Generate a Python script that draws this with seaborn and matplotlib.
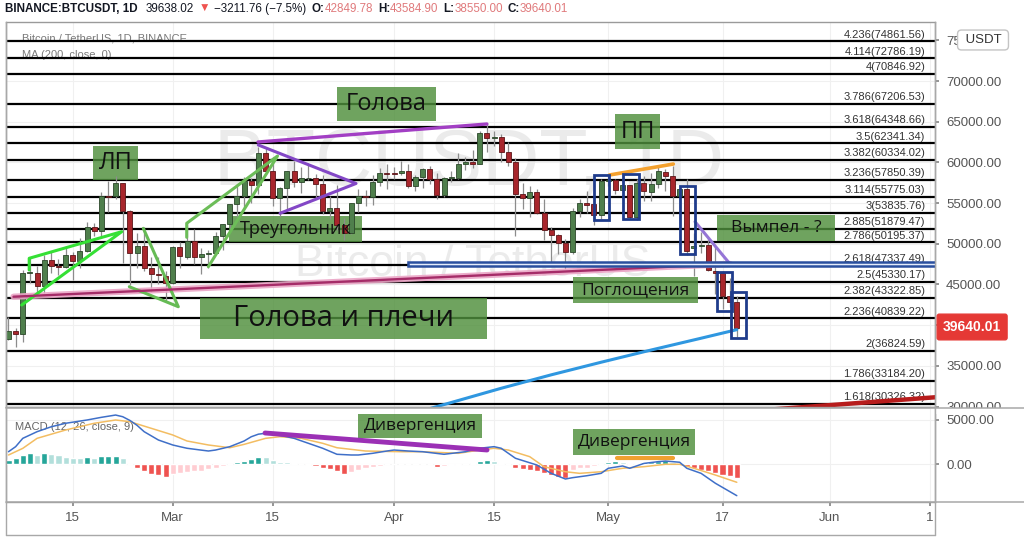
import numpy as np
import pandas as pd
import matplotlib
matplotlib.use("Agg")
import matplotlib.pyplot as plt
import seaborn as sns
from matplotlib.patches import Rectangle
from matplotlib.lines import Line2D

# BINANCE:BTCUSDT daily candles, 6 Feb - 19 May 2021
start_date = "2021-02-06"
opens = [38279, 39323, 38928, 46375, 46420, 44808, 47969, 47298, 47157, 48580,
         47911, 49133, 52118, 51553, 55906, 55841, 57412, 54088, 48891, 49676,
         47074, 46277, 46104, 45134, 49596, 48437, 50349, 48374, 48747, 48882,
         50959, 52375, 54875, 55852, 57773, 57222, 61188, 58976, 55605, 56901,
         58913, 57641, 58030, 58100, 57352, 54083, 54343, 52304, 51294, 55026,
         55817, 55781, 57635, 58747, 58739, 58720, 58950, 57052, 58202, 59130,
         57990, 55953, 58078, 58143, 59769, 59997, 59860, 63575, 62960, 63159,
         61335, 60007, 56150, 55633, 56425, 53788, 51691, 51111, 50048, 49004,
         54030, 55037, 54858, 53568, 57715, 57826, 56621, 57214, 53252, 57441,
         56414, 57353, 58877, 58290, 55860, 56705, 49537, 49683, 49856, 46716,
         46427, 43538, 42850]
highs = [40955, 39700, 46794, 48200, 47310, 48679, 48986, 48150, 49707, 49011,
         50689, 52619, 52530, 56368, 57700, 58353, 57509, 54184, 51375, 52042,
         48424, 48394, 46638, 49790, 50200, 52640, 51774, 49449, 49200, 51450,
         52403, 54895, 57388, 58150, 58082, 61844, 61725, 60633, 56938, 58999,
         60130, 59468, 59880, 58589, 58431, 55831, 57200, 53229, 55073, 56700,
         56560, 58406, 59368, 59800, 59490, 60200, 59792, 58493, 59272, 59500,
         58655, 58153, 58895, 61200, 60699, 61500, 63800, 64854, 63800, 63521,
         62506, 60499, 57527, 57076, 56758, 55521, 52121, 51166, 50568, 54357,
         55509, 56428, 55220, 57963, 58448, 57903, 58973, 57214, 57911, 58363,
         58650, 59500, 59211, 59500, 56888, 57939, 51330, 51438, 50700, 49720,
         46686, 45811, 43585]
lows = [38216, 37351, 37989, 45200, 43727, 43994, 46400, 46203, 47014, 45571,
        47004, 48947, 50902, 50710, 53864, 55478, 47622, 44893, 47004, 46674,
        44107, 45000, 43000, 45115, 47048, 48101, 47500, 46300, 47070, 48882,
        49275, 51789, 53005, 54273, 54963, 56078, 58967, 54600, 53271, 54124,
        57023, 56271, 57820, 55450, 53650, 53000, 51700, 50428, 51215, 53950,
        54691, 54800, 57071, 56769, 57935, 58428, 56880, 56479, 56818, 57333,
        55473, 55700, 57654, 57904, 59018, 59350, 59770, 61301, 62020, 60000,
        59581, 50931, 54222, 53330, 53695, 50500, 47500, 48734, 46930, 48753,
        53321, 53813, 52331, 53013, 57052, 56142, 56591, 53047, 52900, 55200,
        55242, 56900, 56482, 53400, 54370, 48600, 46000, 48869, 46650, 43825,
        42001, 42250, 38550]
closes = [39323, 38928, 46375, 46420, 44808, 47970, 47288, 47154, 48578, 47911,
          49133, 52120, 51553, 55906, 55841, 57409, 54088, 48891, 49676, 47074,
          46277, 46106, 45136, 49587, 48441, 50349, 48374, 48752, 48882, 50972,
          52375, 54885, 55852, 57773, 57222, 61188, 58968, 55605, 56901, 58913,
          57648, 58030, 58102, 57352, 54083, 54341, 52304, 51294, 55026, 55817,
          55778, 57635, 58747, 58741, 58720, 58950, 57052, 58202, 59130, 57991,
          55953, 58078, 58143, 59769, 60002, 59860, 63575, 62960, 63160, 61335,
          60007, 56150, 55633, 56425, 53788, 51691, 51125, 50048, 49004, 54022,
          55033, 54825, 53555, 57750, 57829, 56610, 57213, 53242, 57473, 56428,
          57380, 58929, 58281, 55884, 56750, 49150, 49716, 49880, 46761, 46457,
          43538, 42850, 39640]

# MA (200, close, 0)
ma_dates = ["2021-04-02", "2021-04-09", "2021-04-16", "2021-04-23",
            "2021-04-30", "2021-05-07", "2021-05-14", "2021-05-19"]
ma_values = [28750, 30500, 32250, 33900, 35450, 36950, 38400, 39450]

# MACD (12, 26, close, 9)
macd_dates = ["2021-02-06", "2021-02-07", "2021-02-08", "2021-02-10", "2021-02-12",
              "2021-02-14", "2021-02-17", "2021-02-19", "2021-02-21", "2021-02-22",
              "2021-02-23", "2021-02-24", "2021-02-25", "2021-02-27", "2021-03-01",
              "2021-03-02", "2021-03-03", "2021-03-05", "2021-03-06", "2021-03-07",
              "2021-03-09", "2021-03-11", "2021-03-12", "2021-03-13", "2021-03-14",
              "2021-03-15", "2021-03-17", "2021-03-18", "2021-03-20", "2021-03-22",
              "2021-03-24", "2021-03-26", "2021-03-27", "2021-03-29", "2021-03-31",
              "2021-04-01", "2021-04-03", "2021-04-05", "2021-04-08", "2021-04-11",
              "2021-04-13", "2021-04-15", "2021-04-16", "2021-04-18", "2021-04-21",
              "2021-04-23", "2021-04-25", "2021-04-26", "2021-04-28", "2021-04-30",
              "2021-05-01", "2021-05-03", "2021-05-04", "2021-05-06", "2021-05-08",
              "2021-05-09", "2021-05-11", "2021-05-12", "2021-05-14", "2021-05-16",
              "2021-05-19"]
macd_values = [1420, 1990, 2930, 3680, 4240, 4630, 5000, 5300, 5560, 5370,
               4950, 4400, 3680, 2740, 2180, 1990, 1810, 1600, 1500, 1610,
               1990, 2630, 3110, 3400, 3500, 3390, 3110, 2930, 2370, 1810,
               1130, 1050, 1050, 1240, 1500, 1610, 1500, 1420, 1130, 1420,
               1810, 1990, 1810, 680, -80, -1020, -1660, -1510, -1290, -1020,
               -450, -190, -450, 100, 300, 370, 230, -450, -1020, -2140,
               -3540]
signal_dates = ["2021-02-06", "2021-02-08", "2021-02-10", "2021-02-14", "2021-02-18",
                "2021-02-21", "2021-02-23", "2021-02-26", "2021-03-01", "2021-03-03",
                "2021-03-06", "2021-03-09", "2021-03-11", "2021-03-14", "2021-03-16",
                "2021-03-19", "2021-03-22", "2021-03-24", "2021-03-28", "2021-04-02",
                "2021-04-05", "2021-04-10", "2021-04-13", "2021-04-15", "2021-04-17",
                "2021-04-20", "2021-04-22", "2021-04-25", "2021-04-27", "2021-04-30",
                "2021-05-03", "2021-05-06", "2021-05-09", "2021-05-11", "2021-05-13",
                "2021-05-16", "2021-05-19"]
signal_values = [1050, 1800, 2930, 3870, 4630, 5000, 4810, 4060, 3310, 2630,
                 2180, 1870, 2250, 2930, 3115, 2930, 2370, 1870, 1500, 1420,
                 1420, 1240, 1610, 1810, 1610, 860, -270, -840, -1020, -840,
                 -450, -270, 0, 0, -450, -1210, -2030]
# histogram, one bar per candle
hist_values = [490, 680, 1050, 1240, 1050, 1240, 1130, 1050, 865, 750, 680, 865,
               680, 940, 960, 980, 750, 30,
               -380, -710, -1090, -1200, -1470, -1130, -1015, -830, -750, -710,
               -530, -380, -190,
               75, 225, 415, 565, 865, 790, 490, 300, 225, 150, 20,
               -75, -150, -380, -565, -750, -1130, -830, -640, -450, -300, -150,
               10, 75,
               60, 50, 10, 60, -20, -265, -150, -110, -40, 75, 150, 375, 490,
               415, 115, 40,
               -375, -525, -640, -750, -1015, -1200, -1390, -1500, -640, -450,
               -375, -225,
               75, 225, 375, 225, 20, 115, 225, 300, 375, 450, 300, 75,
               -265, -450, -640, -750, -1015, -1200, -1315, -1500]

# fibonacci extension levels
fib_ratios = [4.236, 4.114, 4, 3.786, 3.618, 3.5, 3.382, 3.236, 3.114, 3,
              2.885, 2.786, 2.618, 2.5, 2.382, 2.236, 2, 1.786, 1.618]
fib_prices = [74861.56, 72786.19, 70846.92, 67206.53, 64348.66, 62341.34,
              60334.02, 57850.39, 55775.03, 53835.76, 51879.47, 50195.37,
              47337.49, 45330.17, 43322.85, 40839.22, 36824.59, 33184.20,
              30326.32]

price_ticks = [30000, 35000, 40000, 45000, 50000, 55000, 60000, 65000, 70000, 75000]
macd_ticks = [0, 5000]
date_ticks = ["2021-02-15", "2021-03-01", "2021-03-15", "2021-04-01", "2021-04-15",
              "2021-05-01", "2021-05-17", "2021-06-01", "2021-06-15"]
date_labels = ["15", "Mar", "15", "Apr", "15", "May", "17", "Jun", "1"]

last_price = 39640.01
header_parts = [("BINANCE:BTCUSDT, 1D", "#131722", "bold", 0),
                ("39638.02", "#131722", "normal", 6),
                ("▼", "#ef5350", "normal", 3),
                ("−3211.76 (−7.5%)", "#131722", "normal", 3),
                ("O:", "#131722", "bold", 4), ("42849.78", "#e07a7c", "normal", 0),
                ("H:", "#131722", "bold", 3.5), ("43584.90", "#e07a7c", "normal", 0),
                ("L:", "#131722", "bold", 3.5), ("38550.00", "#e07a7c", "normal", 0),
                ("C:", "#131722", "bold", 3.5), ("39640.01", "#e07a7c", "normal", 0)]

# ---------------------------------------------------------------------------
ref = pd.Timestamp("2021-03-01")


def day_x(dates):
    return (pd.to_datetime(pd.Series(dates)) - ref).dt.days.to_numpy()


sns.set_theme(style="white")
plt.rcParams["font.family"] = ["Liberation Sans", "DejaVu Sans"]
BOX_FONT = ["Open Sans", "DejaVu Sans"]

W, H = 1024, 539
fig = plt.figure(figsize=(W / 100, H / 100), dpi=100)
fig.patch.set_facecolor("white")


def px_rect(x0, y0, x1, y1):
    return [x0 / W, 1 - y1 / H, (x1 - x0) / W, (y1 - y0) / H]


ax = fig.add_axes(px_rect(6, 22, 935, 407))
axm = fig.add_axes(px_rect(6, 407, 935, 502))
XLIM = (-23.35, 106.76)

# ---- candles -----------------------------------------------------------
df = pd.DataFrame({"date": pd.date_range(start_date, periods=len(closes), freq="D"),
                   "open": opens, "high": highs, "low": lows, "close": closes})
df["x"] = (df["date"] - ref).dt.days
up = df["close"] >= df["open"]
body = df["close"] - df["open"]
body = body.where(body.abs() > 110, np.where(up, 110, -110))

ax.vlines(df["x"], df["low"], df["high"], color="#8c8c8c", lw=0.9, zorder=4)
ax.bar(df["x"][up], body[up], bottom=df["open"][up], width=0.7,
       color="#4f7f4c", edgecolor="#2c472a", lw=0.6, zorder=5)
ax.bar(df["x"][~up], body[~up], bottom=df["open"][~up], width=0.7,
       color="#a8262c", edgecolor="#5c1518", lw=0.6, zorder=5)

sns.lineplot(x=day_x(ma_dates), y=ma_values, ax=ax, color="#2f97e0", lw=2.2, zorder=6)

# ---- fib levels ----------------------------------------------------------
for r, p in zip(fib_ratios, fib_prices):
    ax.axhline(p, color="black", lw=1.6, zorder=2)
    ax.annotate(f"{r:g}({p:.2f})", xy=(1, p), xycoords=("axes fraction", "data"),
                xytext=(-7, 1.2), textcoords="offset points", ha="right", va="bottom",
                fontsize=8, color="#333333", zorder=3)

# ---- watermark / legend ----------------------------------------------------
ax.text(0.498, 0.629, "BTCUSDT, 1D", transform=ax.transAxes, ha="center", va="center",
        fontsize=57, color="#ebebeb", zorder=1)
ax.text(0.502, 0.369, "Bitcoin / TetherUS", transform=ax.transAxes, ha="center",
        va="center", fontsize=32, color="#ebebeb", zorder=1)
ax.text(0.017, 0.958, "Bitcoin / TetherUS, 1D, BINANCE", transform=ax.transAxes,
        fontsize=8, color="#7a7a7a", va="center", zorder=1)
ax.text(0.017, 0.914, "MA (200, close, 0)", transform=ax.transAxes,
        fontsize=8, color="#7a7a7a", va="center", zorder=1)

# ---- drawings (x = days from 1 Mar 2021, y = price) ------------------------
def seg(axis, xs, ys, color, lw, z=6, alpha=1.0):
    axis.plot(xs, ys, color=color, lw=lw, zorder=z, alpha=alpha,
              solid_capstyle="round", solid_joinstyle="round")


seg(ax, [-21.15, -7.14, -20.1, -20.1], [42480, 51490, 48220, 46780], "#35e035", 2.2)
seg(ax, [-4.12, 0.78, -6.08], [51900, 42270, 44730], "#66bb55", 2.2)
seg(ax, [1.96, 1.96, 14.68, 4.99], [50800, 52520, 60790, 47190], "#6cbd58", 2.2)
seg(ax, [11.95, 44.0], [62510, 64720], "#a23fc4", 2.4)
seg(ax, [11.99, 25.67, 15.03], [62140, 57410, 53750], "#8347c6", 2.2)
seg(ax, [-22.3, 78.05], [43500, 47520], "#eaa5c6", 4.5, z=5.5, alpha=0.9)
seg(ax, [-22.3, 78.05], [43500, 47520], "#a52c68", 1.7)
seg(ax, [73.15, 78.05], [52715, 47520], "#9575d6", 2.2)
seg(ax, [61.15, 70.11], [58450, 59800], "#f4a12e", 2.6)
seg(ax, [74.0, 106.76], [29000, 31144], "#b71c1c", 3.2)

ax.add_patch(Rectangle((32.9, 47250), 80, 514, fc="#e4ecfb", ec="#2a4f9e",
                       lw=1.8, zorder=6))

for x0, x1, p0, p1 in [(59.0, 61.1, 52920, 58450), (63.0, 65.3, 53010, 58540),
                       (71.05, 73.15, 48710, 57100), (76.2, 78.3, 41745, 46500),
                       (78.15, 80.25, 38390, 44115)]:
    ax.add_patch(Rectangle((x0, p0), x1 - x0, p1 - p0, fill=False, ec="#1f3c8c",
                           lw=2, zorder=7))


def label_box(axis, x0, x1, y0, y1, text, size):
    axis.add_patch(Rectangle((x0, y0), x1 - x0, y1 - y0, fc="#4f8f3c", ec="none",
                             alpha=0.82, zorder=3.5))
    axis.text((x0 + x1) / 2, (y0 + y1) / 2, text, ha="center", va="center",
              fontsize=size, family=BOX_FONT, color="#111111", zorder=8)


label_box(ax, -11.2, -4.8, 57840, 62015, "ЛП", 17)
label_box(ax, 23.0, 36.9, 65086, 69263, "Голова", 17)
label_box(ax, 62.0, 68.3, 61646, 65946, "ПП", 17)
label_box(ax, 7.9, 26.5, 50221, 53415, "Треугольник", 13)
label_box(ax, 3.8, 44.0, 38305, 43342, "Голова и плечи", 21)
label_box(ax, 76.2, 92.8, 50344, 53538, "Вымпел - ?", 12.5)
label_box(ax, 56.1, 73.6, 42727, 45921, "Поглощения", 12.5)

# ---- MACD pane -------------------------------------------------------------
hist = np.array(hist_values, dtype=float)
prev = np.concatenate([[hist[0]], hist[:-1]])
hist_colors = np.where(hist >= 0,
                       np.where(hist >= prev, "#26a69a", "#b2dfdb"),
                       np.where(hist <= prev, "#ef5350", "#ffcdd2"))
axm.bar(df["x"], hist, width=0.85, color=hist_colors, zorder=3)
sns.lineplot(x=day_x(signal_dates), y=signal_values, ax=axm, color="#f3bd62", lw=1.1, zorder=4)
sns.lineplot(x=day_x(macd_dates), y=macd_values, ax=axm, color="#3f6fc8", lw=1.1, zorder=5)
seg(axm, [12.93, 44.02], [3533, 1614], "#9b30b5", 3.5)
seg(axm, [62.18, 70.11], [680, 680], "#f0a030", 3)
label_box(axm, 26.0, 43.3, 2934, 5643, "Дивергенция", 12.5)
label_box(axm, 56.1, 73.2, 1050, 3984, "Дивергенция", 12.5)
axm.text(0.0097, 0.789, "MACD (12, 26, close, 9)", transform=axm.transAxes,
         fontsize=8, color="#666666", va="center", zorder=1)

# ---- axes cosmetics ----------------------------------------------------------
tick_x = day_x(date_ticks)
for a in (ax, axm):
    a.set_xlim(*XLIM)
    a.set_xticks(tick_x)
    a.yaxis.tick_right()
    a.grid(True, color="#f0f0f0", lw=0.8)
    a.set_axisbelow(True)
    a.set_xlabel("")
    a.set_ylabel("")
    for s in a.spines.values():
        s.set_color("#9a9a9a")
        s.set_linewidth(1)

ax.set_ylim(29950, 77250)
ax.set_yticks(price_ticks)
ax.set_yticklabels([f"{v:.2f}" for v in price_ticks])
ax.tick_params(axis="x", length=0, labelbottom=False)
ax.tick_params(axis="y", length=3, pad=5, labelsize=9.5, labelcolor="#555555",
               color="#888888", right=True, left=False)

axm.set_ylim(-4255, 6467)
axm.set_yticks(macd_ticks)
axm.set_yticklabels([f"{v:.2f}" for v in macd_ticks])
axm.set_xticklabels(date_labels)
axm.tick_params(axis="x", length=3, pad=4, labelsize=9.5, labelcolor="#555555",
                color="#888888", bottom=True)
axm.tick_params(axis="y", length=3, pad=5, labelsize=9.5, labelcolor="#555555",
                color="#888888", right=True, left=False)

# hide the lower half of the clipped 30000 label, draw pane separators
fig.add_artist(Rectangle((936 / W, 1 - 414 / H), 88 / W, 6.5 / H, transform=fig.transFigure,
                         fc="white", ec="none", zorder=5))
for y in (407.5, 502):
    fig.add_artist(Line2D([6 / W, 1], [1 - y / H, 1 - y / H], transform=fig.transFigure,
                          color="#a8a8a8", lw=1.1, zorder=6))
fig.add_artist(Line2D([6 / W, 935 / W], [1 - 535 / H, 1 - 535 / H], transform=fig.transFigure,
                      color="#a8a8a8", lw=1, zorder=6))
fig.add_artist(Line2D([6 / W, 6 / W], [1 - 535 / H, 1 - 22 / H], transform=fig.transFigure,
                      color="#a8a8a8", lw=1, zorder=6))
fig.add_artist(Line2D([935 / W, 935 / W], [1 - 535 / H, 1 - 22 / H], transform=fig.transFigure,
                      color="#a8a8a8", lw=1, zorder=6))

# ---- price scale badges ------------------------------------------------------
fig.text(943 / W, 1 - 327 / H, f"{last_price:.2f}", ha="left", va="center", fontsize=10,
         color="white", fontweight="bold", zorder=7,
         bbox=dict(boxstyle="round,pad=0.42,rounding_size=0.15", fc="#e53935", ec="#e53935"))
fig.text(983 / W, 1 - 40 / H, " USDT ", ha="center", va="center", fontsize=9.5,
         color="#333333", zorder=7,
         bbox=dict(boxstyle="round,pad=0.3", fc="white", ec="#c4c4c4", lw=1))

# ---- header line: pieces chained one after another -------------------------------
prev_txt = None
for txt, col, wt, gap in header_parts:
    if prev_txt is None:
        prev_txt = fig.text(5 / W, 1 - 15 / H, txt, ha="left", va="bottom",
                            fontsize=8.4, color=col, fontweight=wt)
    else:
        prev_txt = ax.annotate(txt, xy=(1, 0), xycoords=prev_txt, xytext=(gap, 0),
                               textcoords="offset points", ha="left", va="bottom",
                               fontsize=8.4, color=col, fontweight=wt,
                               annotation_clip=False, clip_on=False)

fig.savefig("out.png", dpi=100, facecolor="white")
